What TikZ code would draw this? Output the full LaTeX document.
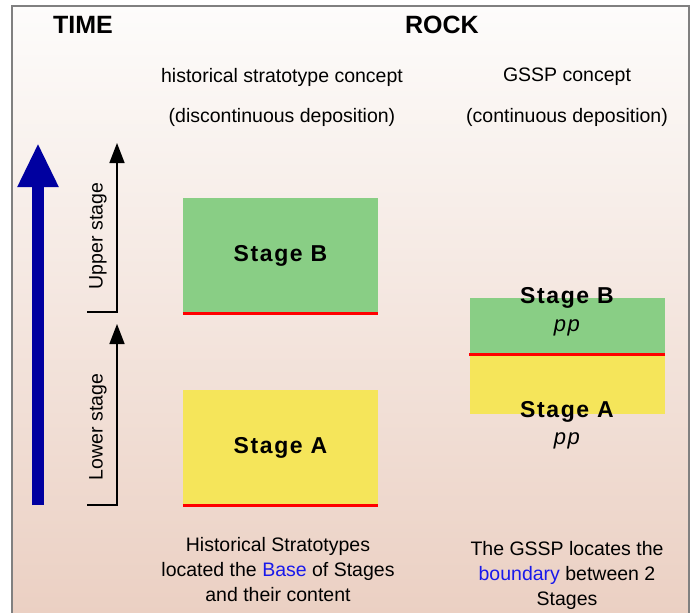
\documentclass[tikz,border=0pt]{standalone}
\usepackage{fontspec}
\setmainfont{Liberation Sans}
\newfontfamily\stagefont[LetterSpace=7]{Liberation Sans}
\usetikzlibrary{positioning,arrows.meta}

\definecolor{stagegreen}{RGB}{137,206,133}
\definecolor{stageyellow}{RGB}{245,229,90}
\definecolor{timeblue}{RGB}{0,0,160}
\definecolor{linkblue}{RGB}{25,25,235}
\definecolor{rocktop}{RGB}{253,252,251}
\definecolor{rockbottom}{RGB}{235,208,195}

\tikzset{
  heading/.style={font=\fontsize{25}{28}\selectfont\bfseries},
  caption/.style={font=\fontsize{19.5}{25}\selectfont, align=center},
  stagename/.style={font=\stagefont\bfseries\fontsize{23}{25}\selectfont},
  ppname/.style={font=\stagefont\itshape\fontsize{22}{24}\selectfont},
  stagebox/.style={inner sep=0pt, minimum width=195pt},
  boundary/.style={red, line width=3pt},
  stagearrow/.style={line width=1.5pt, -{Triangle[width=15pt,length=20pt]}},
  timearrow/.style={timeblue, line width=12pt, -{Triangle[width=38pt,length=44pt]}}
}

\begin{document}
\begin{tikzpicture}[x=1pt,y=-1pt]
\useasboundingbox (0,0) rectangle (694,613);
\shade[top color=rocktop, bottom color=rockbottom] (12,6) rectangle (689,613);
\draw[gray, line width=2pt] (12,613) -- (12,6) -- (689,6) -- (689,613);

\def\xl{280.5}
\def\xr{567}

% headings
\node[heading] (time) at (83,25) {TIME};
\node[heading] (rock) at (442,25) {ROCK};
\node[caption] (hist) at (282,77) {historical stratotype concept};
\node[caption] (disc) at (282,117) {(discontinuous deposition)};
\node[caption] (gssp) at (\xr,77) {GSSP concept};
\node[caption] (cont) at (\xr,117) {(continuous deposition)};

% time axis
\coordinate (tb) at (38,505);
\coordinate (tt) at (38,143);
\draw[timearrow] (tb) -- (tt);

\coordinate (u0) at (87,312);
\coordinate (u1) at (117,312);
\coordinate (u2) at (117,143);
\draw[stagearrow] (u0) -- (u1) -- (u2);
\node[caption, rotate=90] (upper) at (98,236) {Upper stage};

\coordinate (l0) at (87,505);
\coordinate (l1) at (117,505);
\coordinate (l2) at (117,324);
\draw[stagearrow] (l0) -- (l1) -- (l2);
\node[caption, rotate=90] (lower) at (98,427) {Lower stage};

% historical stratotypes
\node[stagebox, fill=stagegreen, minimum height=115pt, stagename] (hB) at (\xl,255.5) {Stage B};
\node[stagebox, fill=stageyellow, minimum height=115pt, stagename] (hA) at (\xl,447.5) {Stage A};
\draw[boundary] (hB.south west) -- (hB.south east);
\draw[boundary] (hA.south west) -- (hA.south east);

% GSSP
\node[stagebox, fill=stagegreen, minimum height=56pt] (gB) at (\xr,326) {};
\node[stagebox, fill=stageyellow, minimum height=60pt] (gA) at (\xr,384) {};
\draw[boundary] (gB.south west) -- (gB.south east);
\node[stagename] (gBname) at (\xr,298) {Stage B};
\node[ppname] (gBpp) at (\xr,328) {pp};
\node[stagename] (gAname) at (\xr,412) {Stage A};
\node[ppname] (gApp) at (\xr,441) {pp};

% captions
\node[caption] (histnote) at (278,570) {Historical Stratotypes\\located the \textcolor{linkblue}{Base} of Stages\\and their content};
\node[caption] (gsspnote) at (\xr,575) {The GSSP locates the\\\textcolor{linkblue}{boundary} between 2\\Stages};
\end{tikzpicture}
\end{document}
